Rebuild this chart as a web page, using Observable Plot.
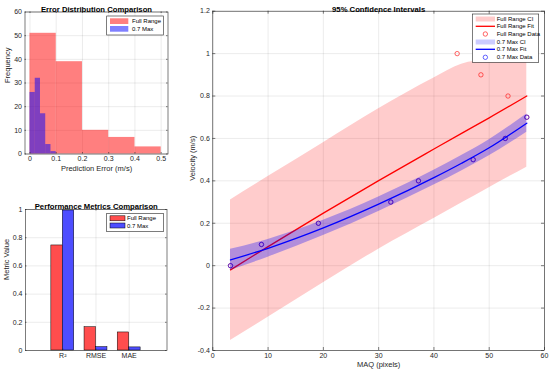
<!DOCTYPE html>
<html><head><meta charset="utf-8">
<script src="https://cdn.jsdelivr.net/npm/d3@7"></script>
<script src="https://cdn.jsdelivr.net/npm/@observablehq/plot@0.6"></script>
<style>
body{margin:0;background:#fff;}
#wrap{position:relative;width:550px;height:373px;overflow:hidden;background:#fff;}
#wrap svg{position:absolute;overflow:visible;}
</style></head><body><div id="wrap"></div>
<script>
// ---------- data ----------
const histEdgesFull = [0, 0.1, 0.2, 0.3, 0.4, 0.5];
const histCountsFull = [51, 39, 10, 7, 3];
const histEdgesMax = [0, 0.02, 0.04, 0.06, 0.08, 0.1];
const histCountsMax = [26, 32, 17, 4, 1];

const metricNames = ["R²", "RMSE", "MAE"];
const metricFull = [0.745, 0.165, 0.128];
const metricMax = [0.993, 0.024, 0.022];

const fullDataX = [3.2, 8.8, 19.1, 32.2, 37.2, 44.2, 47.1, 48.5, 52.9, 53.4, 56.8];
const fullDataY = [0, 0.1, 0.2, 0.3, 0.4, 1.0, 0.5, 0.9, 0.6, 0.8, 0.7];
const maxDataX = [3.2, 8.8, 19.1, 32.2, 37.2, 47.1, 52.9, 56.8];
const maxDataY = [0, 0.1, 0.2, 0.3, 0.4, 0.5, 0.6, 0.7];

const curveX  = [3.2, 10, 20, 30, 40, 45, 50, 56.8];
const fullFit = [-0.02, 0.09, 0.248, 0.401, 0.55, 0.624, 0.697, 0.80];
const fullLo  = [-0.353, -0.243, -0.081, 0.078, 0.223, 0.295, 0.368, 0.464];
const fullHi  = [0.31, 0.42, 0.58, 0.74, 0.885, 0.950, 0.972, 0.988];
const maxFit  = [0.027, 0.082, 0.178, 0.29, 0.415, 0.483, 0.556, 0.672];
const maxLo   = [-0.023, 0.040, 0.142, 0.256, 0.380, 0.447, 0.518, 0.629];
const maxHi   = [0.077, 0.124, 0.214, 0.324, 0.450, 0.519, 0.594, 0.715];

const xTicksA = [0, 0.1, 0.2, 0.3, 0.4, 0.5];
const yTicksA = [0, 10, 20, 30, 40, 50, 60];
const xTicksB = [1, 2, 3];
const yTicksB = [0, 0.2, 0.4, 0.6, 0.8, 1];
const xTicksC = [0, 10, 20, 30, 40, 50, 60];
const yTicksC = [-0.4, -0.2, 0, 0.2, 0.4, 0.6, 0.8, 1, 1.2];

// ---------- helpers ----------
const FONT = "'Liberation Sans', Arial, Helvetica, sans-serif";
const AX = "#262626";
const fmt = d => String(+(+d).toFixed(2));
const wrap = document.getElementById("wrap");
function place(node, left, top) { node.style.left = left + "px"; node.style.top = top + "px"; wrap.appendChild(node); }
const grid = {stroke: AX, strokeOpacity: 0.15, strokeWidth: 0.6};
function boxTicks(xt, yt, fw, fh, len) {
  const s = {stroke: AX, strokeWidth: 0.6};
  return [
    Plot.ruleX(xt, {x: d => d, insetTop: fh - len, ...s}),
    Plot.ruleX(xt, {x: d => d, insetBottom: fh - len, ...s}),
    Plot.ruleY(yt, {y: d => d, insetRight: fw - len, ...s}),
    Plot.ruleY(yt, {y: d => d, insetLeft: fw - len, ...s})
  ];
}
const baseStyle = {fontFamily: FONT, fontSize: "7px", color: AX, background: "transparent", overflow: "visible"};

// ---------- Panel A: histogram ----------
{
  const W = 180, H = 185, m = {t: 11.5, r: 12.5, b: 31.5, l: 24.5};
  const fw = W - m.l - m.r, fh = H - m.t - m.b;
  const fullBins = histCountsFull.map((n, i) => ({x1: histEdgesFull[i], x2: histEdgesFull[i + 1], n}));
  const maxBins = histCountsMax.map((n, i) => ({x1: histEdgesMax[i], x2: histEdgesMax[i + 1], n}));
  const chart = Plot.plot({
    width: W, height: H, marginTop: m.t, marginRight: m.r, marginBottom: m.b, marginLeft: m.l,
    style: baseStyle,
    x: {domain: [-0.019, 0.526]},
    y: {domain: [0, 60]},
    marks: [
      Plot.ruleX(xTicksA, {x: d => d, ...grid}),
      Plot.ruleY(yTicksA, {y: d => d, ...grid}),
      Plot.rect(fullBins, {x1: "x1", x2: "x2", y1: 0, y2: "n", fill: "red", fillOpacity: 0.5}),
      Plot.rect(maxBins, {x1: "x1", x2: "x2", y1: 0, y2: "n", fill: "blue", fillOpacity: 0.5}),
      ...boxTicks(xTicksA, yTicksA, fw, fh, 1.5),
      Plot.frame({stroke: AX, strokeWidth: 0.6}),
      Plot.axisX(xTicksA, {tickSize: 0, tickPadding: 2.5, tickFormat: fmt, label: null}),
      Plot.axisY(yTicksA, {tickSize: 0, tickPadding: 3, tickFormat: fmt, label: null}),
      Plot.text(["Error Distribution Comparison"], {frameAnchor: "top", dy: -5.5, fontWeight: "bold", fontSize: 7.7, fill: "#000"}),
      Plot.text(["Prediction Error (m/s)"], {frameAnchor: "bottom", dy: 16.5, fontSize: 7.5, fill: AX}),
      Plot.text(["Frequency"], {frameAnchor: "left", dx: -17.8, rotate: -90, fontSize: 7.5, fill: AX})
    ]
  });
  place(chart, 0, 0);
}

// ---------- Panel B: bar chart ----------
{
  const W = 180, H = 188, m = {t: 24, r: 13.5, b: 23, l: 25};
  const fw = W - m.l - m.r, fh = H - m.t - m.b;
  const bw = 0.345;
  const full = metricFull.map((v, i) => ({i: i + 1, v}));
  const mx = metricMax.map((v, i) => ({i: i + 1, v}));
  const chart = Plot.plot({
    width: W, height: H, marginTop: m.t, marginRight: m.r, marginBottom: m.b, marginLeft: m.l,
    style: baseStyle,
    x: {domain: [-0.1235, 4.139]},
    y: {domain: [0, 1]},
    marks: [
      Plot.ruleX(xTicksB, {x: d => d, ...grid}),
      Plot.ruleY(yTicksB, {y: d => d, ...grid}),
      Plot.rect(full, {x1: d => d.i - bw, x2: d => d.i, y1: 0, y2: "v", fill: "#ff4d4d", stroke: "#000", strokeWidth: 0.5}),
      Plot.rect(mx, {x1: d => d.i, x2: d => d.i + bw, y1: 0, y2: "v", fill: "#4d4dff", stroke: "#000", strokeWidth: 0.5}),
      ...boxTicks(xTicksB, yTicksB, fw, fh, 1.5),
      Plot.frame({stroke: AX, strokeWidth: 0.6}),
      Plot.axisX(xTicksB, {tickSize: 0, tickPadding: 2.5, tickFormat: d => metricNames[d - 1], label: null}),
      Plot.axisY(yTicksB, {tickSize: 0, tickPadding: 3, tickFormat: fmt, label: null}),
      Plot.text(["Performance Metrics Comparison"], {frameAnchor: "top", dy: -5.7, fontWeight: "bold", fontSize: 7.7, fill: "#000"}),
      Plot.text(["Metric Value"], {frameAnchor: "left", dx: -19, rotate: -90, fontSize: 7.5, fill: AX})
    ]
  });
  place(chart, 0, 185);
}

// ---------- Panel C: confidence intervals ----------
{
  const W = 380, H = 373, m = {t: 10.7, r: 6, b: 23, l: 42.3};
  const fw = W - m.l - m.r, fh = H - m.t - m.b;
  const curves = curveX.map((x, i) => ({x, ff: fullFit[i], flo: fullLo[i], fhi: fullHi[i], mf: maxFit[i], mlo: maxLo[i], mhi: maxHi[i]}));
  const fullPts = fullDataX.map((x, i) => ({x, y: fullDataY[i]}));
  const maxPts = maxDataX.map((x, i) => ({x, y: maxDataY[i]}));
  const chart = Plot.plot({
    width: W, height: H, marginTop: m.t, marginRight: m.r, marginBottom: m.b, marginLeft: m.l,
    style: baseStyle,
    x: {domain: [0, 60]},
    y: {domain: [-0.4, 1.2]},
    marks: [
      Plot.ruleX(xTicksC, {x: d => d, ...grid}),
      Plot.ruleY(yTicksC, {y: d => d, ...grid}),
      Plot.areaY(curves, {x: "x", y1: "flo", y2: "fhi", fill: "red", fillOpacity: 0.2, curve: "monotone-x"}),
      Plot.line(curves, {x: "x", y: "ff", stroke: "red", strokeWidth: 1.3, curve: "monotone-x"}),
      Plot.dot(fullPts, {x: "x", y: "y", r: 2.2, stroke: "red", strokeWidth: 0.6, fill: "none"}),
      Plot.areaY(curves, {x: "x", y1: "mlo", y2: "mhi", fill: "blue", fillOpacity: 0.3, curve: "monotone-x"}),
      Plot.line(curves, {x: "x", y: "mf", stroke: "blue", strokeWidth: 1.3, curve: "monotone-x"}),
      Plot.dot(maxPts, {x: "x", y: "y", r: 2.2, stroke: "blue", strokeWidth: 0.6, fill: "none"}),
      ...boxTicks(xTicksC, yTicksC, fw, fh, 3),
      Plot.frame({stroke: AX, strokeWidth: 0.6}),
      Plot.axisX(xTicksC, {tickSize: 0, tickPadding: 3, tickFormat: fmt, label: null}),
      Plot.axisY(yTicksC, {tickSize: 0, tickPadding: 3, tickFormat: fmt, label: null}),
      Plot.text(["95% Confidence Intervals"], {frameAnchor: "top", dy: -4.7, fontWeight: "bold", fontSize: 7.7, fill: "#000"}),
      Plot.text(["MAQ (pixels)"], {frameAnchor: "bottom", dy: 16, fontSize: 7.5, fill: AX}),
      Plot.text(["Velocity (m/s)"], {frameAnchor: "left", dx: -20.6, rotate: -90, fontSize: 7.5, fill: AX})
    ]
  });
  place(chart, 170, 0);
}

// ---------- Legends ----------
{
  const svg = d3.create("svg").attr("width", 550).attr("height", 373).style("left", "0px").style("top", "0px")
    .style("font-family", FONT).style("font-size", "6px");
  function box(x0, y0, x1, y1) {
    svg.append("rect").attr("x", x0).attr("y", y0).attr("width", x1 - x0).attr("height", y1 - y0)
      .attr("fill", "#fff").attr("stroke", AX).attr("stroke-width", 0.6);
  }
  function label(x, y, t) {
    svg.append("text").attr("x", x).attr("y", y).attr("dy", "0.35em").attr("fill", "#000").text(t);
  }
  // Legend A
  box(106.7, 16, 163.3, 35);
  svg.append("rect").attr("x", 110).attr("y", 18.3).attr("width", 18.3).attr("height", 5.7).attr("fill", "red").attr("fill-opacity", 0.5);
  label(132, 21.2, "Full Range");
  svg.append("rect").attr("x", 110).attr("y", 26).attr("width", 18.3).attr("height", 5.7).attr("fill", "blue").attr("fill-opacity", 0.5);
  label(132, 28.9, "0.7 Max");
  // Legend B
  box(106.7, 213.3, 163.3, 231.7);
  svg.append("rect").attr("x", 110).attr("y", 215.8).attr("width", 15).attr("height", 5).attr("fill", "#ff4d4d").attr("stroke", "#000").attr("stroke-width", 0.5);
  label(127, 218.3, "Full Range");
  svg.append("rect").attr("x", 110).attr("y", 223).attr("width", 15).attr("height", 5).attr("fill", "#4d4dff").attr("stroke", "#000").attr("stroke-width", 0.5);
  label(127, 225.5, "0.7 Max");
  // Legend C
  box(472.3, 14, 538.7, 62.3);
  const rows = [19, 26.3, 34, 42, 49.3, 57.3];
  const sx0 = 475.7, sx1 = 495, sxc = (sx0 + sx1) / 2, tx = 496.7;
  svg.append("rect").attr("x", sx0).attr("y", rows[0] - 2.5).attr("width", sx1 - sx0).attr("height", 5).attr("fill", "red").attr("fill-opacity", 0.2);
  label(tx, rows[0], "Full Range CI");
  svg.append("line").attr("x1", sx0).attr("x2", sx1).attr("y1", rows[1]).attr("y2", rows[1]).attr("stroke", "red").attr("stroke-width", 1.3);
  label(tx, rows[1], "Full Range Fit");
  svg.append("circle").attr("cx", sxc).attr("cy", rows[2]).attr("r", 2.2).attr("fill", "none").attr("stroke", "red").attr("stroke-width", 0.6);
  label(tx, rows[2], "Full Range Data");
  svg.append("rect").attr("x", sx0).attr("y", rows[3] - 2.5).attr("width", sx1 - sx0).attr("height", 5).attr("fill", "blue").attr("fill-opacity", 0.2);
  label(tx, rows[3], "0.7 Max CI");
  svg.append("line").attr("x1", sx0).attr("x2", sx1).attr("y1", rows[4]).attr("y2", rows[4]).attr("stroke", "blue").attr("stroke-width", 1.3);
  label(tx, rows[4], "0.7 Max Fit");
  svg.append("circle").attr("cx", sxc).attr("cy", rows[5]).attr("r", 2.2).attr("fill", "none").attr("stroke", "blue").attr("stroke-width", 0.6);
  label(tx, rows[5], "0.7 Max Data");
  svg.style("pointer-events", "none");
  place(svg.node(), 0, 0);
}
</script>
</body></html>
